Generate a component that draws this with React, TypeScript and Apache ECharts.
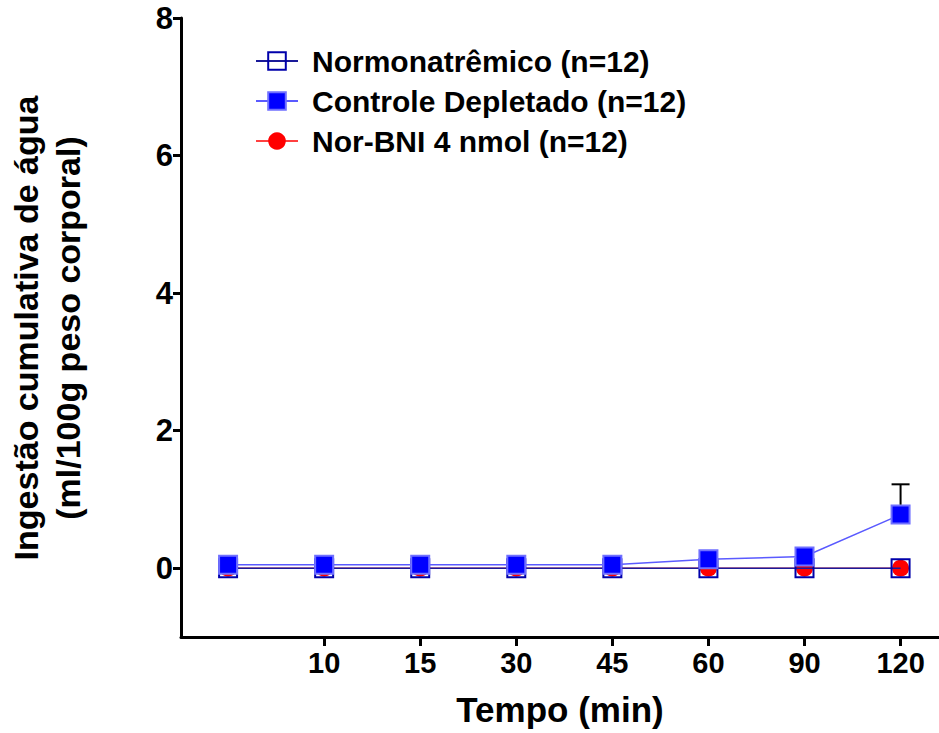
import React, { useEffect, useRef } from "react";
import * as echarts from "echarts";

const timeLabels = ["0", "10", "15", "30", "45", "60", "90", "120"];
const normoValues = [0, 0, 0, 0, 0, 0, 0, 0];
const controleValues = [0.05, 0.05, 0.05, 0.05, 0.05, 0.13, 0.17, 0.78];
const controleErrors = [0, 0, 0, 0, 0, 0, 0, 0.44];
const norBniValues = [0, 0, 0, 0, 0, 0, 0, 0];
const yTicks = [0, 2, 4, 6, 8];
const xTickIdx = [1, 2, 3, 4, 5, 6, 7];

const FONT = "'Liberation Sans', Arial, sans-serif";

export default function App() {
  const ref = useRef<HTMLDivElement>(null);
  useEffect(() => {
    if (!ref.current) return;
    const chart = echarts.init(ref.current, null, { renderer: "svg" });
    const pts = (vals: number[]) => vals.map((v, i) => [i, v]);
    const errData = controleValues
      .map((v, i) => [i, v, controleErrors[i]])
      .filter((d) => d[2] > 0);
    chart.setOption({
      animation: false,
      backgroundColor: "#fff",
      grid: { left: 181, top: 18, right: 0, bottom: 96, containLabel: false },
      legend: {
        orient: "vertical",
        left: 250,
        top: 41,
        itemWidth: 42,
        itemHeight: 22,
        itemGap: 10,
        data: ["Normonatrêmico (n=12)", "Controle Depletado (n=12)", "Nor-BNI 4 nmol (n=12)"],
        textStyle: {
          fontFamily: FONT,
          fontWeight: "bold",
          fontSize: 30,
          color: "#000",
          lineHeight: 30,
          padding: [0, 0, 0, 9],
        },
      },
      xAxis: {
        type: "value",
        min: -0.49,
        max: 7.4,
        splitLine: { show: false },
        axisLine: { show: true, onZero: false, lineStyle: { color: "#000", width: 3 } },
        axisTick: {
          show: true,
          length: 9,
          customValues: xTickIdx,
          lineStyle: { color: "#000", width: 3 },
        },
        axisLabel: {
          customValues: xTickIdx,
          formatter: (v: number) => timeLabels[Math.round(v)] ?? "",
          fontFamily: FONT,
          fontWeight: "bold",
          fontSize: 29,
          color: "#000",
          margin: 11,
        },
        name: "Tempo (min)",
        nameLocation: "middle",
        nameGap: 55,
        nameTextStyle: { fontFamily: FONT, fontWeight: "bold", fontSize: 35, color: "#000", verticalAlign: "top" },
      },
      yAxis: {
        type: "value",
        min: -1,
        max: 8,
        splitLine: { show: false },
        axisLine: { show: true, onZero: false, lineStyle: { color: "#000", width: 3 } },
        axisTick: {
          show: true,
          length: 8,
          customValues: yTicks,
          lineStyle: { color: "#000", width: 3 },
        },
        axisLabel: {
          customValues: yTicks,
          fontFamily: FONT,
          fontWeight: "bold",
          fontSize: 31,
          color: "#000",
          margin: 8,
        },
      },
      graphic: [
        {
          type: "text",
          x: 47,
          y: 328,
          rotation: Math.PI / 2,
          style: {
            text: "Ingestão cumulativa de água\n(ml/100g peso corporal)",
            fontFamily: FONT,
            fontWeight: "bold",
            fontSize: 34,
            lineHeight: 42,
            fill: "#000",
            align: "center",
            verticalAlign: "middle",
          },
        },
      ],
      series: [
        {
          name: "Nor-BNI 4 nmol (n=12)",
          type: "line",
          data: pts(norBniValues),
          symbol: "circle",
          symbolSize: 17,
          lineStyle: { color: "#ff4040", width: 1.5 },
          itemStyle: { color: "#ff0000", borderColor: "#ff0000", borderWidth: 0 },
          z: 2,
        },
        {
          name: "Normonatrêmico (n=12)",
          type: "line",
          data: pts(normoValues),
          symbol: "rect",
          symbolSize: 18,
          lineStyle: { color: "#1a1a99", width: 1.5 },
          itemStyle: { color: "rgba(255,255,255,0)", borderColor: "#0000aa", borderWidth: 2 },
          z: 3,
        },
        {
          name: "Controle Depletado (n=12)",
          type: "line",
          data: pts(controleValues),
          symbol: "rect",
          symbolSize: 18,
          lineStyle: { color: "#5a5aff", width: 1.5 },
          itemStyle: { color: "#0000ff", borderColor: "#7070ff", borderWidth: 2 },
          z: 4,
        },
        {
          name: "err",
          type: "custom",
          data: errData,
          encode: { x: 0, y: 1 },
          z: 5,
          renderItem: (_params: any, api: any) => {
            const x = api.value(0);
            const y = api.value(1);
            const e = api.value(2);
            const p = api.coord([x, y]);
            const t = api.coord([x, y + e]);
            return {
              type: "group",
              children: [
                {
                  type: "line",
                  shape: { x1: p[0], y1: p[1] - 10, x2: t[0], y2: t[1] },
                  style: { stroke: "#000", lineWidth: 2 },
                },
                {
                  type: "line",
                  shape: { x1: t[0] - 9, y1: t[1], x2: t[0] + 9, y2: t[1] },
                  style: { stroke: "#000", lineWidth: 2 },
                },
              ],
            };
          },
        },
      ],
    });
    return () => chart.dispose();
  }, []);
  return (
    <div
      ref={ref}
      style={{ position: "fixed", left: 0, top: 0, width: 939, height: 733, background: "#fff" }}
    />
  );
}
